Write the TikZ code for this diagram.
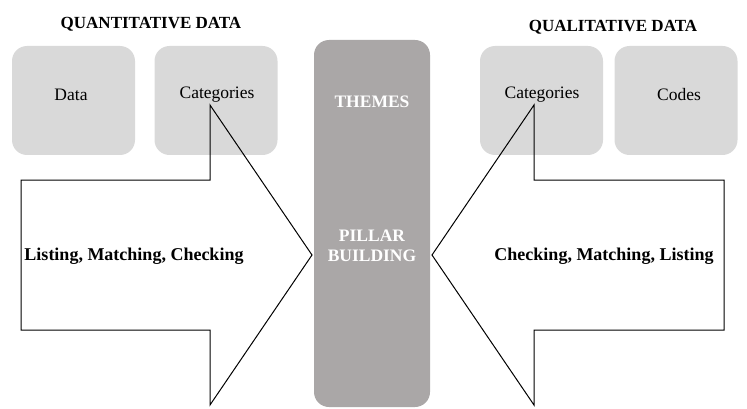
\documentclass[tikz,border=0pt]{standalone}
\usepackage{fontspec}
\setmainfont{Liberation Serif}
\begin{document}
\begin{tikzpicture}[x=1pt,y=-1pt,
  box/.style={fill=boxgray,rounded corners=15pt,minimum width=123pt,minimum height=109pt,inner sep=0pt},
  boxtext/.style={font=\fontsize{17.5}{20}\selectfont},
  head/.style={font=\bfseries\fontsize{17}{19}\selectfont},
  lbl/.style={font=\bfseries\fontsize{18}{20}\selectfont},
  pil/.style={font=\bfseries\fontsize{17.5}{20}\selectfont,text=white,align=center},
  arrowshape/.style={draw=black,line width=1pt,line join=miter}]
\definecolor{boxgray}{HTML}{D9D9D9}
\definecolor{pillargray}{HTML}{AAA7A7}
\useasboundingbox (0,0) rectangle (747,409);
% boxes
\node[box] (b1) at (73.5,100.5) {};
\node[box] (b2) at (216,100.5) {};
\node[box] (b3) at (541.5,100.5) {};
\node[box] (b4) at (676,100.5) {};
\node[boxtext] at (71,95) {Data};
\node[boxtext] at (217,95) {Categories};
\node[boxtext] at (542,95) {Categories};
\node[boxtext] at (679,95) {Codes};
% pillar
\fill[pillargray,rounded corners=15pt] (314,40) rectangle (430,407);
\node[pil] (themes) at (372,102) {THEMES};
\node[pil] (pb) at (372,246) {PILLAR\\BUILDING};
% headings
\node[head] (hq) at (151,24) {QUANTITATIVE DATA};
\node[head] (hl) at (613,27) {QUALITATIVE DATA};
% arrows
\draw[arrowshape] (21,180) -- (210,180) -- (210,105) -- (312,255) -- (210,405) -- (210,330) -- (21,330) -- cycle;
\draw[arrowshape] (724,180) -- (534,180) -- (534,105) -- (432,255) -- (534,405) -- (534,330) -- (724,330) -- cycle;
\node[lbl] (ll) at (134,256) {Listing, Matching, Checking};
\node[lbl] (rl) at (604,256) {Checking, Matching, Listing};
\end{tikzpicture}
\end{document}
